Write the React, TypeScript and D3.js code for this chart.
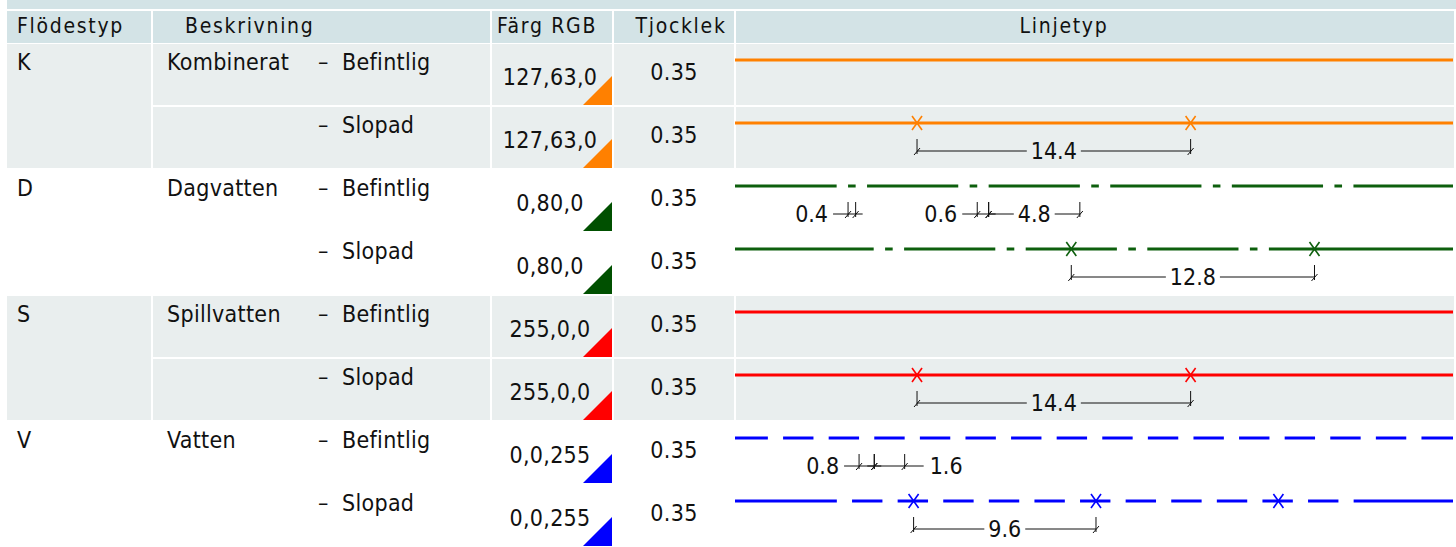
import React, { useEffect, useRef } from "react";
import * as d3 from "d3";

const W = 1456;
const H = 547;

const headers = ["Flödestyp", "Beskrivning", "Färg RGB", "Tjocklek", "Linjetyp"];
const flowCodes = ["K", "D", "S", "V"];
const flowNames = ["Kombinerat", "Dagvatten", "Spillvatten", "Vatten"];
const statuses = ["Befintlig", "Slopad"];
const rgbLabels = ["127,63,0", "0,80,0", "255,0,0", "0,0,255"];
const swatchColors = ["#ff8000", "#005000", "#ff0000", "#0000ff"];
const lineColors = ["#ff8000", "#0d5f0d", "#ff0000", "#0000ff"];
const thicknesses = [0.35, 0.35, 0.35, 0.35, 0.35, 0.35, 0.35, 0.35];
const shadedGroups = [true, false, true, false];

// linetype patterns in drawing units (dash, gap, dash, gap ...)
const dashPatterns = [[], [4.8, 0.6, 0.4, 0.6], [], [1.6, 0.8]];
// per row: where the first regular pattern starts (units) and how many repeat
const patternStarts = [0, 0, 6.95, 8.9, 0, 0, 2.53, 6.16];
const patternCounts = [0, 0, 4, 3, 0, 0, 14, 11];
// x-markers on the "Slopad" lines
const markerStarts = [0, 9.58, 0, 17.7, 0, 9.58, 0, 9.4];
const markerSpacing = [0, 14.4, 0, 12.8, 0, 14.4, 0, 9.6];
const markerCounts = [0, 2, 0, 2, 0, 2, 0, 3];
// dimension callouts
const dimRows = [1, 2, 2, 2, 3, 5, 6, 6, 7];
const dimStarts = [9.58, 5.95, 12.75, 13.35, 17.7, 9.58, 6.53, 7.33, 9.4];
const dimLengths = [14.4, 0.4, 0.6, 4.8, 12.8, 14.4, 0.8, 1.6, 9.6];
const dimSides = ["center", "left", "left", "center", "center", "center", "left", "right", "center"];

const LINE_UNITS = 37.79;
const FONT = "'DejaVu Sans Condensed', 'DejaVu Sans', sans-serif";

function segmentsFor(pattern: number[], start: number, count: number, total: number) {
  if (!pattern.length) return [[0, total]];
  const period = d3.sum(pattern);
  const segs: number[][] = [];
  for (let k = -1; k < count; k++) {
    let pos = start + k * period;
    pattern.forEach((len, i) => {
      if (i % 2 === 0) segs.push([pos, pos + len]);
      pos += len;
    });
  }
  segs[0][0] = 0;
  segs.push([start + count * period, total]);
  return segs;
}

export default function App() {
  const ref = useRef<SVGSVGElement>(null);

  useEffect(() => {
    const svg = d3.select(ref.current);
    svg.selectAll("*").remove();

    const colEdges = [7, 153, 492, 614, 736, 1456];
    const rows = d3.range(8);
    const y = d3.scaleBand<number>().domain(rows).range([44, 548]);
    const rowH = y.step() - 2;
    const ux = d3.scaleLinear().domain([0, LINE_UNITS]).range([735, 1453]);

    svg.append("rect").attr("width", W).attr("height", H).attr("fill", "#ffffff");

    // top band + header
    svg.append("rect").attr("x", 7).attr("y", 0).attr("width", W - 7).attr("height", 9).attr("fill", "#d3e3e6");
    colEdges.slice(0, -1).forEach((x0, i) => {
      svg
        .append("rect")
        .attr("x", x0)
        .attr("y", 11)
        .attr("width", colEdges[i + 1] - x0 - 2)
        .attr("height", 32)
        .attr("fill", "#d3e3e6");
    });

    const hdr = svg
      .append("g")
      .attr("font-family", FONT)
      .attr("font-stretch", "condensed")
      .attr("font-size", 21)
      .attr("letter-spacing", 1.7)
      .attr("fill", "#111");
    const hdrX = [17, 185, 547, 681, 1064];
    headers.forEach((h, i) => {
      hdr
        .append("text")
        .attr("x", hdrX[i])
        .attr("y", 33)
        .attr("text-anchor", i < 2 ? "start" : "middle")
        .text(h);
    });

    // shaded groups
    flowCodes.forEach((_, g) => {
      if (!shadedGroups[g]) return;
      const top = y(g * 2)!;
      svg
        .append("rect")
        .attr("x", colEdges[0])
        .attr("y", top)
        .attr("width", colEdges[1] - colEdges[0] - 2)
        .attr("height", rowH * 2 + 2)
        .attr("fill", "#e9eeee");
      [0, 1].forEach((s) => {
        colEdges.slice(1, -1).forEach((x0, i) => {
          svg
            .append("rect")
            .attr("x", x0)
            .attr("y", y(g * 2 + s)!)
            .attr("width", colEdges[i + 2] - x0 - 2)
            .attr("height", rowH)
            .attr("fill", "#e9eeee");
        });
      });
    });

    const body = svg
      .append("g")
      .attr("font-family", FONT)
      .attr("font-stretch", "condensed")
      .attr("font-size", 23)
      .attr("letter-spacing", 0.3)
      .attr("fill", "#111");

    rows.forEach((r) => {
      const g = Math.floor(r / 2);
      const s = r % 2;
      const top = y(r)!;
      if (s === 0) {
        body.append("text").attr("x", 17).attr("y", top + 26).text(flowCodes[g]);
        body.append("text").attr("x", 167).attr("y", top + 26).text(flowNames[g]);
      }
      const st = body.append("text").attr("y", top + 26);
      st.append("tspan").attr("x", 318).text("–");
      st.append("tspan").attr("x", 342).text(statuses[s]);
      body
        .append("text")
        .attr("x", 550)
        .attr("y", top + 41)
        .attr("text-anchor", "middle")
        .text(rgbLabels[g]);
      body
        .append("text")
        .attr("x", 674)
        .attr("y", top + 36)
        .attr("text-anchor", "middle")
        .text(d3.format(".2f")(thicknesses[r]));

      // colour swatch triangle
      const bx = colEdges[3] - 2;
      const by = top + rowH;
      svg
        .append("path")
        .attr("d", `M${bx - 29},${by}L${bx},${by}L${bx},${by - 29}Z`)
        .attr("fill", swatchColors[g]);

      // linetype
      const ly = top + 16;
      const segs = segmentsFor(dashPatterns[g], patternStarts[r], patternCounts[r], LINE_UNITS);
      const lg = svg.append("g").attr("stroke", lineColors[g]).attr("stroke-width", 3);
      segs.forEach(([a, b]) => {
        lg.append("line").attr("x1", ux(a)).attr("x2", ux(b)).attr("y1", ly).attr("y2", ly);
      });
      d3.range(markerCounts[r]).forEach((k) => {
        const mx = ux(markerStarts[r] + k * markerSpacing[r]);
        const mg = svg.append("g").attr("stroke", lineColors[g]).attr("stroke-width", 1.6);
        mg.append("line").attr("x1", mx - 5).attr("x2", mx + 5).attr("y1", ly - 7).attr("y2", ly + 7);
        mg.append("line").attr("x1", mx + 5).attr("x2", mx - 5).attr("y1", ly - 7).attr("y2", ly + 7);
      });
    });

    // dimensions
    const dim = svg.append("g");
    dimRows.forEach((r, i) => {
      const dy = y(r)! + 44;
      const x1 = ux(dimStarts[i]);
      const x2 = ux(dimStarts[i] + dimLengths[i]);
      const dg = dim.append("g").attr("stroke", "#111").attr("stroke-width", 1);
      [x1, x2].forEach((x) => {
        dg.append("line").attr("x1", x).attr("x2", x).attr("y1", dy - 12).attr("y2", dy + 3);
        dg.append("line").attr("x1", x - 3).attr("x2", x + 3).attr("y1", dy + 4).attr("y2", dy - 3);
      });
      const t = dim
        .append("text")
        .attr("font-family", FONT)
        .attr("font-stretch", "condensed")
        .attr("font-size", 23)
        .attr("fill", "#111")
        .attr("y", dy + 8)
        .text(d3.format(".1f")(dimLengths[i]));
      const side = dimSides[i];
      if (side === "center") {
        const mid = (x1 + x2) / 2;
        t.attr("x", mid).attr("text-anchor", "middle");
        const w = (t.node() as SVGTextElement).getComputedTextLength();
        dg.append("line").attr("x1", x1).attr("x2", mid - w / 2 - 4).attr("y1", dy).attr("y2", dy);
        dg.append("line").attr("x1", mid + w / 2 + 4).attr("x2", x2).attr("y1", dy).attr("y2", dy);
      } else if (side === "left") {
        t.attr("x", x1 - 20).attr("text-anchor", "end");
        dg.append("line").attr("x1", x1 - 15).attr("x2", x2 + 7).attr("y1", dy).attr("y2", dy);
      } else {
        t.attr("x", x2 + 25).attr("text-anchor", "start");
        dg.append("line").attr("x1", x1 - 7).attr("x2", x2 + 19).attr("y1", dy).attr("y2", dy);
      }
    });
  }, []);

  return (
    <svg
      ref={ref}
      width={W}
      height={H}
      style={{ position: "absolute", left: 0, top: 0, display: "block" }}
    />
  );
}
